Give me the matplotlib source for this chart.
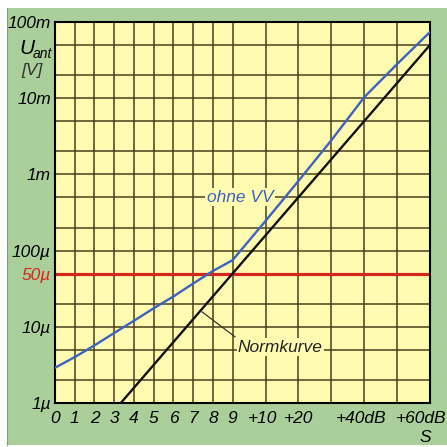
import matplotlib
matplotlib.use("Agg")
import matplotlib.pyplot as plt
from matplotlib.patches import Rectangle
from matplotlib.ticker import FixedLocator, NullFormatter
from matplotlib.transforms import ScaledTranslation

plt.rcParams['font.family'] = ['Liberation Sans Narrow', 'Liberation Sans', 'DejaVu Sans']
plt.rcParams['font.style'] = 'italic'

# x axis in dB above S0 (one S-unit = 6 dB, beyond S9 plain dB)
x_ticks_db = [0, 6, 12, 18, 24, 30, 36, 42, 48, 54, 64, 74, 94, 114]
x_tick_labels = ["0", "1", "2", "3", "4", "5", "6", "7", "8", "9",
                 "+10", "+20", "+40dB", "+60dB"]
x_extra_grid_db = [84, 104]

y_ticks = [1e-6, 1e-5, 5e-5, 1e-4, 1e-3, 1e-2, 1e-1]
y_tick_labels = ["1µ", "10µ", "50µ", "100µ", "1m", "10m", "100m"]
y_extra_grid = [2e-6, 5e-6, 2e-5, 2e-4, 5e-4, 2e-3, 5e-3, 2e-2, 5e-2]

# antenna voltage without preamp ("ohne VV")
ohne_db = [0, 6, 12, 18, 24, 30, 36, 42, 48, 54, 64, 74, 84, 94, 104, 114]
ohne_v = [2.9e-6, 4.0e-6, 5.7e-6, 8.3e-6, 12e-6, 17.5e-6, 25e-6, 37e-6,
          54e-6, 75e-6, 245e-6, 0.82e-3, 2.8e-3, 10.3e-3, 28e-3, 74e-3]

# standard S-meter curve (S9 = 50 µV, 6 dB per S-unit)
norm_db = [20, 114]
norm_v = [1e-6, 50e-3]
ref_level = 50e-6

GREEN = "#aacf9a"
YELLOW = "#fffcb2"
GRID = "#4a3f1c"
BLUE = "#3c64be"
RED = "#d4261c"
FS = 12.5
W = H = 447

fig = plt.figure(figsize=(4.47, 4.47), dpi=100)
fig.patch.set_facecolor("white")
fig.patches.append(Rectangle((7 / W, 2 / H), 1 - 7 / W, 1 - 10 / H,
                             transform=fig.transFigure, facecolor=GREEN,
                             edgecolor="none", zorder=-5))
fig.lines.append(plt.Line2D([7 / W, 7 / W], [2 / H, 1 - 8 / H],
                            transform=fig.transFigure, color="#8a9a88", lw=0.8, zorder=-4))

ax = fig.add_axes([55 / W, 44 / H, 375 / W, 381 / H])
ax.set_facecolor(YELLOW)
ax.set_yscale("log")
ax.set_xlim(0, 114)
ax.set_ylim(1e-6, 1e-1)

ax.set_xticks(x_ticks_db)
ax.set_xticklabels(x_tick_labels)
ax.xaxis.set_minor_locator(FixedLocator(x_extra_grid_db))
ax.set_yticks(y_ticks)
ax.set_yticklabels(y_tick_labels)
ax.yaxis.set_minor_locator(FixedLocator(y_extra_grid))
ax.yaxis.set_minor_formatter(NullFormatter())
ax.tick_params(which="both", length=0, labelsize=FS)
ax.tick_params(axis="x", pad=6)
ax.tick_params(axis="y", pad=3)
ax.set_axisbelow(True)
ax.grid(which="both", color=GRID, lw=1.1)
for s in ax.spines.values():
    s.set_linewidth(1.5)
    s.set_color("black")

ax.get_yticklabels()[y_tick_labels.index("50µ")].set_color(RED)
shifts = {"+10": -3, "+20": 0, "+40dB": -3, "+60dB": -9}
for lab in ax.get_xticklabels():
    dx = shifts.get(lab.get_text(), 0)
    if dx:
        lab.set_transform(lab.get_transform() + ScaledTranslation(dx / 100, 0, fig.dpi_scale_trans))

ax.axhline(ref_level, color=RED, lw=2.3, zorder=2.5)
ax.plot(norm_db, norm_v, color="#111111", lw=1.7, zorder=3)
ax.plot(ohne_db, ohne_v, color=BLUE, lw=1.7, zorder=3)

ax.text(56.2, 5e-4, "ohne VV", color=BLUE, fontsize=FS, ha="center", va="center",
        bbox=dict(facecolor=YELLOW, edgecolor="none", pad=1), zorder=2.8)
ax.text(55.6, 5.4e-6, "Normkurve", color="#222222", fontsize=FS, ha="left", va="center",
        bbox=dict(facecolor=YELLOW, edgecolor="none", pad=1), zorder=2.8)
ax.plot([44.7, 54.7], [15.7e-6, 7.4e-6], color="#333333", lw=0.9, zorder=2.9)

fig.text(27 / W, 1 - 48 / H, "U", fontsize=15, ha="center", va="center")
fig.text(33 / W, 1 - 54 / H, "ant", fontsize=10, ha="left", va="center")
fig.text(32 / W, 1 - 71 / H, "[V]", fontsize=FS, ha="center", va="center", color="#333333")
fig.text(425 / W, 1 - 438 / H, "S", fontsize=FS, ha="center", va="center")

fig.savefig("out.png", dpi=100, facecolor=fig.get_facecolor())
